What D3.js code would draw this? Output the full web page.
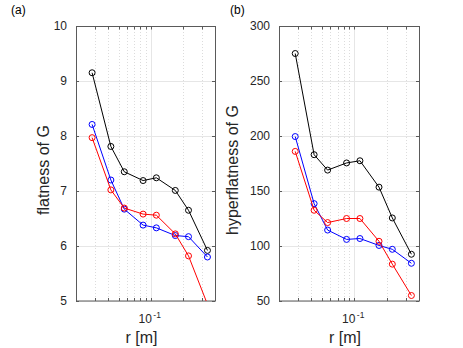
<!DOCTYPE html>
<html><head><meta charset="utf-8">
<script src="https://cdn.jsdelivr.net/npm/d3@7"></script>
<style>body{margin:0;background:#fff}svg{display:block;font-family:"Liberation Sans",Arial,Helvetica,sans-serif}</style>
</head><body><svg id="c" width="463" height="348"></svg>
<script>
const r = [0.0283, 0.0424, 0.0566, 0.0849, 0.113, 0.170, 0.226, 0.340];
const flatBlack = [9.15, 7.81, 7.35, 7.19, 7.24, 7.01, 6.65, 5.92];
const flatBlue  = [8.21, 7.20, 6.67, 6.38, 6.33, 6.19, 6.17, 5.80];
const flatRed   = [7.97, 7.02, 6.69, 6.58, 6.56, 6.22, 5.82, 4.94];
const hypBlack = [275, 183, 169, 175.5, 177.5, 153.5, 125.5, 92.5];
const hypBlue  = [199.5, 138.5, 114.5, 106, 106.8, 100.5, 97, 84.3];
const hypRed   = [186, 132.5, 121.3, 125, 125, 104.3, 83.5, 55];
const flatTicks = [5, 6, 7, 8, 9, 10];
const hypTicks = [50, 100, 150, 200, 250, 300];
const xMinor = [0.02,0.03,0.04,0.05,0.06,0.07,0.08,0.09,0.2,0.3,0.4];
const xMajor = [0.1];

const svg = d3.select("#c");
const axisCol = "#5a5a5a";

function panel(o){
  const x = d3.scaleLog().domain([0.02,0.4]).range([o.x0,o.x1]);
  const y = d3.scaleLinear().domain(o.ydom).range([301,26]);
  const g = svg.append("g");
  const id = "clip"+o.tag.replace(/\W/g,"");
  svg.append("clipPath").attr("id",id).append("rect")
    .attr("x",o.x0).attr("y",26).attr("width",o.x1-o.x0).attr("height",275);
  // grid
  g.selectAll(".mg").data(xMinor.filter(v=>v>0.02&&v<0.4)).join("line")
    .attr("x1",d=>Math.round(x(d))+0.5).attr("x2",d=>Math.round(x(d))+0.5)
    .attr("y1",26).attr("y2",301).attr("stroke","#dcdcdc").attr("stroke-dasharray","1,2").attr("stroke-width",1);
  g.selectAll(".Mg").data(xMajor).join("line")
    .attr("x1",d=>Math.round(x(d))+0.5).attr("x2",d=>Math.round(x(d))+0.5)
    .attr("y1",26).attr("y2",301).attr("stroke","#e6e6e6");
  g.selectAll(".yg").data(o.ticks).join("line")
    .attr("x1",o.x0).attr("x2",o.x1)
    .attr("y1",d=>Math.round(y(d))+0.5).attr("y2",d=>Math.round(y(d))+0.5).attr("stroke","#e6e6e6");
  // box
  g.append("rect").attr("x",o.x0+0.5).attr("y",26.5).attr("width",o.x1-o.x0).attr("height",274.5)
    .attr("fill","none").attr("stroke",axisCol).attr("stroke-width",1);
  // ticks
  const tl = 3;
  [...xMinor, ...xMajor].forEach(v=>{
    const px = Math.round(x(v))+0.5;
    g.append("line").attr("x1",px).attr("x2",px).attr("y1",301).attr("y2",301-tl).attr("stroke",axisCol);
    g.append("line").attr("x1",px).attr("x2",px).attr("y1",26.5).attr("y2",26.5+tl).attr("stroke",axisCol);
  });
  o.ticks.forEach(v=>{
    const py = Math.round(y(v))+0.5;
    g.append("line").attr("x1",o.x0).attr("x2",o.x0+tl).attr("y1",py).attr("y2",py).attr("stroke",axisCol);
    g.append("line").attr("x1",o.x1).attr("x2",o.x1-tl).attr("y1",py).attr("y2",py).attr("stroke",axisCol);
    g.append("text").attr("x",o.x0-9).attr("y",y(v)+4.3).attr("text-anchor","end")
      .attr("font-size",12).attr("fill","#262626").text(v);
  });
  // x tick label 10^-1
  const t = g.append("text").attr("x",x(0.1)-1).attr("y",323).attr("text-anchor","middle")
    .attr("font-size",12).attr("fill","#262626");
  t.append("tspan").text("10");
  t.append("tspan").attr("font-size",8.5).attr("dy",-5.5).attr("dx",1.5).text("-1");
  g.append("text").attr("x",(o.x0+o.x1)/2 -4).attr("y",343).attr("text-anchor","middle")
    .attr("font-size",16).attr("fill","#262626").text("r [m]");
  g.append("text").attr("transform",`translate(${o.lx},170) rotate(-90)`).attr("text-anchor","middle")
    .attr("font-size",16).attr("fill","#262626").text(o.label);
  g.append("text").attr("x",o.tx).attr("y",14).attr("font-size",12).attr("fill","#000").text(o.tag);
  // series
  const line = d3.line().x((d,i)=>x(r[i])).y(d=>y(d));
  const dg = g.append("g").attr("clip-path",`url(#${id})`);
  const inside = d => d >= o.ydom[0] && d <= o.ydom[1];
  o.series.forEach(s=>{
    dg.append("path").datum(s.v).attr("d",line).attr("fill","none").attr("stroke",s.c).attr("stroke-width",1);
    dg.selectAll(null).data(s.v.map((d,i)=>({d,i})).filter(p=>inside(p.d))).join("circle")
      .attr("cx",p=>x(r[p.i])).attr("cy",p=>y(p.d))
      .attr("r",3).attr("fill","none").attr("stroke",s.c).attr("stroke-width",1);
  });
}

panel({tag:"(a)", x0:76, x1:215, ydom:[5,10], ticks:flatTicks, lx:49, tx:11, label:"flatness of G",
  series:[{v:flatBlack,c:"#000"},{v:flatBlue,c:"#0000ff"},{v:flatRed,c:"#ff0000"}]});
panel({tag:"(b)", x0:279, x1:419, ydom:[50,300], ticks:hypTicks, lx:238, tx:230, label:"hyperflatness of G",
  series:[{v:hypBlack,c:"#000"},{v:hypBlue,c:"#0000ff"},{v:hypRed,c:"#ff0000"}]});
</script></body></html>
